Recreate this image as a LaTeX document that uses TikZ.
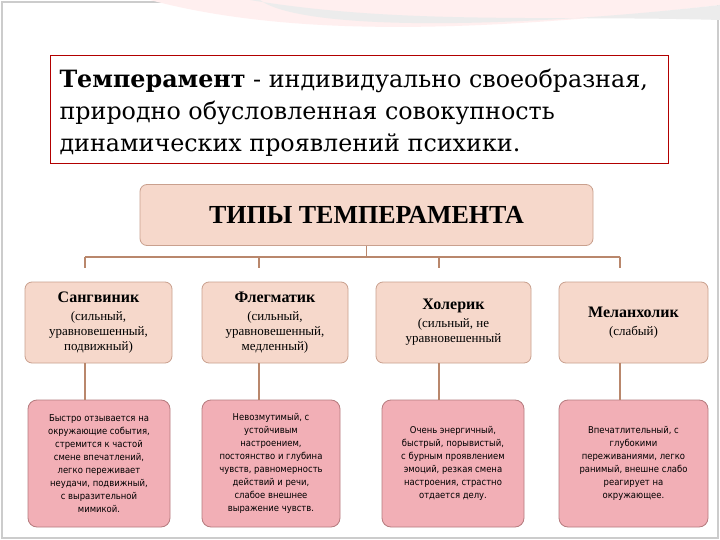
\documentclass[tikz,border=0pt]{standalone}
\usepackage{fontspec}
\setmainfont{Liberation Serif}
\newfontfamily\djs{DejaVu Serif}
\newfontfamily\djc{DejaVu Sans Condensed}
\definecolor{peach}{HTML}{F6D8CB}
\definecolor{peachd}{HTML}{C9A08E}
\definecolor{pinkf}{HTML}{F2AFB6}
\definecolor{pinkd}{HTML}{B57B7E}
\definecolor{linec}{HTML}{B9876C}
\begin{document}
\begin{tikzpicture}[x=1pt,y=-1pt,
 head/.style={draw=peachd,fill=peach,rounded corners=7pt,line width=0.8pt,align=center,inner sep=0pt},
 low/.style={draw=pinkd,fill=pinkf,rounded corners=9pt,line width=0.8pt,align=center,inner sep=0pt,font=\djc\fontsize{9.4}{13}\selectfont},
 conn/.style={draw=linec,line width=1.3pt}]
\useasboundingbox (0,0) rectangle (720,540);
\fill[white] (0,0) rectangle (720,540);
\draw[gray!40,line width=2pt] (2,2) rectangle (718,538);
\fill[pink!25] (150,0) .. controls (300,40) and (500,30) .. (720,5) -- (720,0) -- cycle;
\fill[gray!15] (250,0) .. controls (400,25) and (550,15) .. (720,20) -- (720,5) .. controls (500,30) and (300,30) .. (260,0) -- cycle;
\node[draw=red!70!black,line width=0.6pt,minimum width=618pt,minimum height=108pt,inner sep=0pt] (def) at (359,109) {};
\node[anchor=west,align=left,font=\djs\fontsize{23.8}{32}\selectfont] (deft) at (56,113) {\textbf{Темперамент} - индивидуально своеобразная,\\природно обусловленная совокупность\\динамических проявлений психики.};
\node[head,minimum width=453pt,minimum height=61pt,font=\bfseries\fontsize{26}{28}\selectfont] (main) at (366.5,215) {ТИПЫ ТЕМПЕРАМЕНТА};
\foreach \n/\cx/\w/\t in {a/98.5/147/{\textbf{\fontsize{16}{18}\selectfont Сангвиник}\\[3pt](сильный,\\уравновешенный,\\подвижный)},
 b/275/146/{\textbf{\fontsize{16}{18}\selectfont Флегматик}\\[3pt](сильный,\\уравновешенный,\\медленный)},
 c/453.5/155/{\textbf{\fontsize{16}{18}\selectfont Холерик}\\[3pt](сильный, не\\уравновешенный},
 d/633.5/149/{\textbf{\fontsize{16}{18}\selectfont Меланхолик}\\[3pt](слабый)}}
 \node[head,minimum width=\w pt,minimum height=81pt,font=\fontsize{13}{15}\selectfont] (\n) at (\cx,322.5) {\t};
\foreach \n/\cx/\w/\t in {p/99/142/{Быстро отзывается на\\окружающие события,\\стремится к частой\\смене впечатлений,\\легко переживает\\неудачи, подвижный,\\с выразительной\\мимикой.},
 q/271/138/{Невозмутимый, с\\устойчивым\\настроением,\\постоянство и глубина\\чувств, равномерность\\действий и речи,\\слабое внешнее\\выражение чувств.},
 r/453/142/{Очень энергичный,\\быстрый, порывистый,\\с бурным проявлением\\эмоций, резкая смена\\настроения, страстно\\отдается делу.},
 s/633.5/149/{Впечатлительный, с\\глубокими\\переживаниями, легко\\ранимый, внешне слабо\\реагирует на\\окружающее.}}
 \node[low,minimum width=\w pt,minimum height=127pt] (\n) at (\cx,463.5) {\t};
\coordinate (j) at (main.south |- 0,257);
\coordinate (la) at (85,257); \coordinate (lb) at (259,257);
\coordinate (lc) at (439,257); \coordinate (ld) at (620,257);
\draw[conn] (main.south) -- (j);
\draw[conn] (la) -- (ld);
\foreach \x/\n/\m in {85/a/p,259/b/q,439/c/r,620/d/s}{
 \draw[conn] (\x,257) -- (\x,268);
 \draw[conn] (\n.south -| \x,0) -- (\m.north -| \x,0);}
\end{tikzpicture}
\end{document}
